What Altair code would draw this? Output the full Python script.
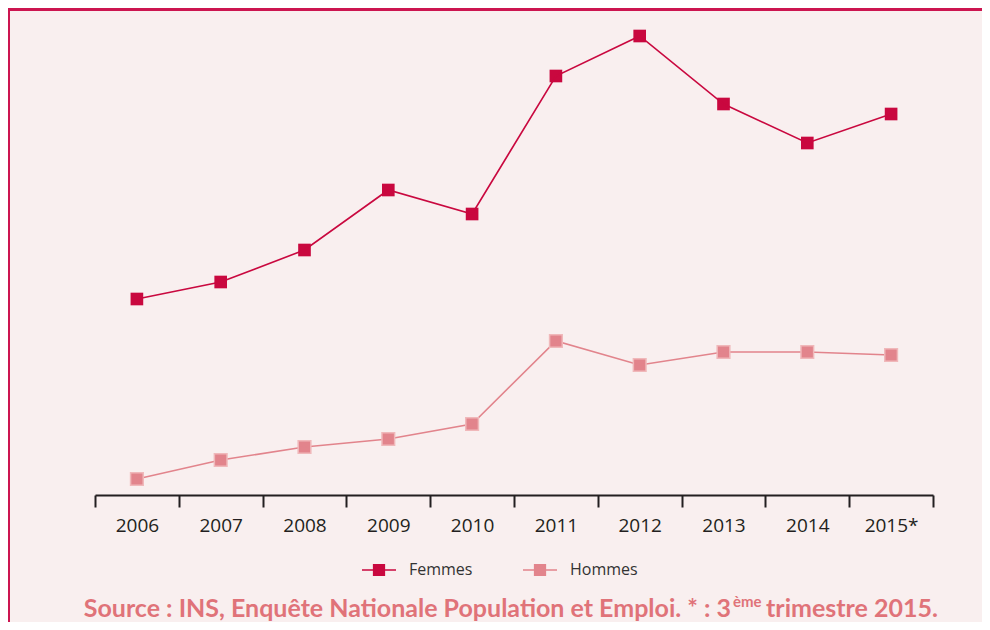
import altair as alt
import pandas as pd

years = ["2006", "2007", "2008", "2009", "2010", "2011", "2012", "2013", "2014", "2015*"]
femmes = [19.6, 21.3, 24.5, 30.5, 28.1, 41.9, 45.9, 39.1, 35.2, 38.1]
hommes = [1.6, 3.5, 4.8, 5.6, 7.1, 15.4, 13.0, 14.3, 14.3, 14.0]
series = ["Femmes", "Hommes"]
colors = ["#c9083f", "#e2848c"]
source_main = "Source : INS, Enquête Nationale Population et Emploi. * : 3"
source_sup = "ème"
source_end = "trimestre 2015."

rows = []
for y, f, h in zip(years, femmes, hommes):
    rows.append({"annee": y, "serie": "Femmes", "valeur": f})
    rows.append({"annee": y, "serie": "Hommes", "valeur": h})
df = pd.DataFrame(rows)

W, H = 838, 475
PL, PT, PR, PB = 87, 12, 49, 127

x_enc = alt.X("annee:N", sort=years, title=None,
              scale=alt.Scale(type="band", paddingInner=0, paddingOuter=0),
              axis=alt.Axis(labelAngle=0, tickBand="extent", domainColor="#231f20",
                            domainWidth=2, tickColor="#231f20", tickWidth=2, tickSize=12,
                            labelFontSize=19, labelColor="#231f20", labelFont="Open Sans",
                            labelPadding=9, grid=False))
y_enc = alt.Y("valeur:Q", scale=alt.Scale(domain=[0, 47.5], nice=False, zero=False), axis=None)
color_scale = alt.Scale(domain=series, range=colors)

legend = alt.Legend(
    title=None, orient="none", legendX=267, legendY=533, direction="horizontal",
    symbolType="M-1,-0.05H1V0.05H-1ZM-0.36,-0.36H0.36V0.36H-0.36Z", symbolSize=1156,
    symbolStrokeWidth=0, labelFontSize=16, labelColor="#333333", labelFont="Open Sans",
    labelOffset=13, columnPadding=50, symbolOpacity=1,
)

base = alt.Chart(df)
pts = base.mark_point(shape="square", filled=True, size=160, opacity=1).encode(
    x=x_enc, y=y_enc,
    color=alt.Color("serie:N", scale=color_scale, legend=legend),
)
lines = base.mark_line(strokeWidth=1.6).encode(
    x=x_enc, y=y_enc,
    color=alt.Color("serie:N", scale=color_scale, legend=legend),
)
pts_h_edge = base.transform_filter(alt.datum.serie == "Hommes").mark_point(
    shape="square", filled=False, size=160, stroke="#f0b8ba", strokeWidth=1.5, opacity=1
).encode(x=x_enc, y=y_enc)

border_top = alt.Chart(pd.DataFrame({"a": [0]})).mark_rule(color="#cc1550", strokeWidth=3).encode(
    x=alt.value(-PL), x2=alt.value(W + PR), y=alt.value(-PT + 1.5))
border_left = alt.Chart(pd.DataFrame({"a": [0]})).mark_rule(color="#cc1550", strokeWidth=3).encode(
    x=alt.value(-PL + 0.5), y=alt.value(-PT), y2=alt.value(H + PB))

txt_style = dict(font="Lato", fontWeight="bold", color="#e07379", baseline="alphabetic")
t1 = alt.Chart(pd.DataFrame({"t": [source_main]})).mark_text(align="right", fontSize=25, **txt_style).encode(
    text="t:N", x=alt.value(636), y=alt.value(597))
t2 = alt.Chart(pd.DataFrame({"t": [source_sup]})).mark_text(align="left", fontSize=15, **txt_style).encode(
    text="t:N", x=alt.value(638), y=alt.value(587))
t3 = alt.Chart(pd.DataFrame({"t": [source_end]})).mark_text(align="left", fontSize=25, **txt_style).encode(
    text="t:N", x=alt.value(671), y=alt.value(597))

chart = alt.layer(pts, lines, pts_h_edge, border_top, border_left, t1, t2, t3).properties(
    width=W, height=H,
    autosize=alt.AutoSizeParams(type="none"),
    padding={"left": PL, "top": PT, "right": PR, "bottom": PB},
    background="#f9efef",
).configure_view(stroke=None)

chart.save("out.html", embed_options={"renderer": "svg", "actions": False})
